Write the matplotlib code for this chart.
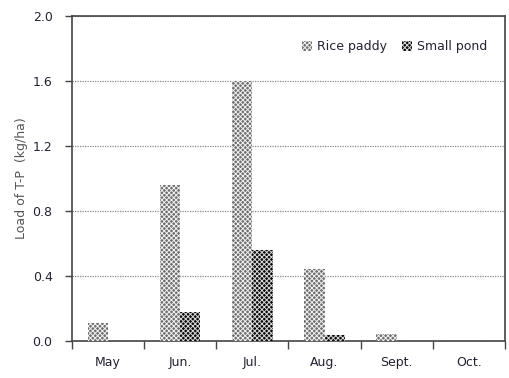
import matplotlib
matplotlib.use("Agg")
import matplotlib.pyplot as plt
import numpy as np

months = ["May", "Jun.", "Jul.", "Aug.", "Sept.", "Oct."]
rice_paddy = [0.11, 0.96, 1.60, 0.44, 0.04, 0.0]
small_pond = [0.0, 0.18, 0.56, 0.035, 0.0, 0.0]
y_ticks = [0.0, 0.4, 0.8, 1.2, 1.6, 2.0]

plt.rcParams["font.family"] = ["DejaVu Sans"]
plt.rcParams["hatch.linewidth"] = 0.7

fig = plt.figure(figsize=(5.09, 3.78), dpi=100)
ax = fig.add_axes([0.1415, 0.098, 0.8505, 0.8597])

x = np.arange(len(months))
w = 0.28
ax.bar(x - w / 2, rice_paddy, w, facecolor="#6e6e6e", edgecolor="#f0f0f0",
       hatch="xxxxxxx", linewidth=0, label="Rice paddy", zorder=3)
ax.bar(x + w / 2, small_pond, w, facecolor="#0a0a0a", edgecolor="#d8d8d8",
       hatch="xxxxxxx", linewidth=0, label="Small pond", zorder=3)

ax.set_xlim(-0.5, len(months) - 0.5)
ax.set_ylim(0, 2.0)
ax.set_yticks(y_ticks)
ax.set_yticklabels([f"{v:.1f}" for v in y_ticks], fontsize=9, color="#222233")
ax.yaxis.grid(True, linestyle=(0, (1, 1)), color="#888888", linewidth=0.9, zorder=0)

# category boundaries carry the tick marks, labels sit at centers
ax.set_xticks(np.arange(-0.5, len(months), 1.0))
ax.set_xticklabels([])
ax.set_xticks(x, minor=True)
ax.set_xticklabels(months, minor=True, fontsize=9, color="#222233")
ax.tick_params(axis="x", which="minor", length=0, pad=11)
ax.tick_params(axis="x", which="major", length=6, width=1, color="#444444", direction="out")
ax.tick_params(axis="y", length=5, width=1, color="#444444", direction="out", pad=9)

for s in ax.spines.values():
    s.set_color("#444444")
    s.set_linewidth(1.2)

ax.set_ylabel("Load of T-P  (kg/ha)", fontsize=9, color="#555555")
ax.yaxis.set_label_coords(-0.102, 0.5)

ax.legend(loc="upper right", ncol=2, frameon=False, fontsize=9,
          handlelength=0.8, handleheight=0.8, handletextpad=0.4, columnspacing=1.2,
          bbox_to_anchor=(0.985, 0.96), labelcolor="#222233")

fig.savefig("out.png", dpi=100)
